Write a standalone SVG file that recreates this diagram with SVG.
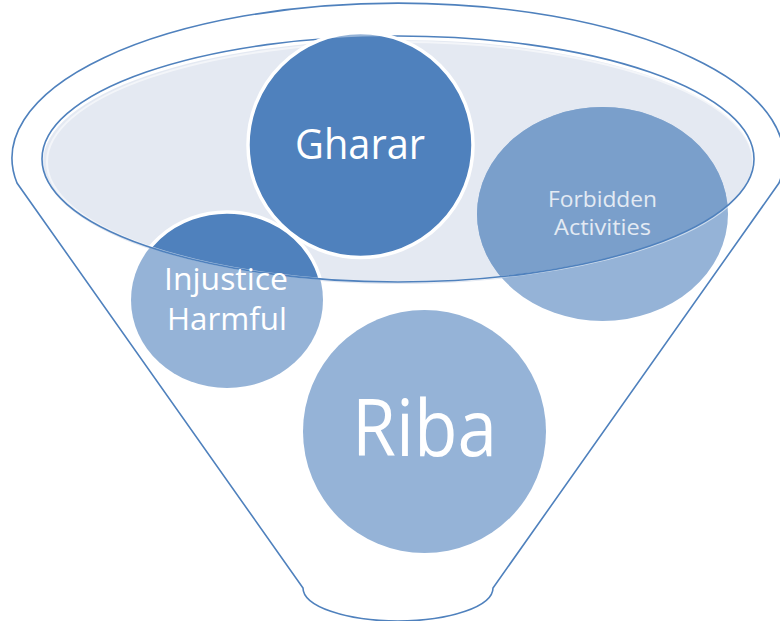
<svg xmlns="http://www.w3.org/2000/svg" width="780" height="621" viewBox="0 0 780 621">
  <style>
    .outline { fill: #FFFFFF; stroke: #4F81BD; stroke-width: 1.6; }
    .light { fill: #95B3D7; }
    .dark { fill: #4F81BD; }
    .mid { fill: #7A9FCB; }
    .ring { fill: none; stroke: #FFFFFF; stroke-width: 3.5; }
    .label { font-family: "Open Sans", "Noto Sans", "Liberation Sans", sans-serif; fill: #FFFFFF; text-anchor: middle; }
    .soft { fill: #E3EAF3; }
  </style>
  <defs>
    <clipPath id="glass-clip">
      <ellipse cx="398" cy="159" rx="356" ry="123"/>
    </clipPath>
  </defs>

  <!-- funnel body -->
  <g id="funnel">
    <path class="outline" d="M 17 183 A 386 155 0 1 1 779 183 L 493 588 A 95 33 0 0 1 303 588 Z"/>
    <ellipse cx="398" cy="162" rx="355" ry="122" fill="#E4E9F2"/>
  </g>

  <!-- Forbidden Activities -->
  <g id="node-forbidden">
    <ellipse class="light" cx="602.5" cy="214" rx="125.5" ry="107"/>
    <ellipse class="mid" cx="602.5" cy="214" rx="125.5" ry="107" clip-path="url(#glass-clip)"/>
  </g>

  <!-- Injustice Harmful -->
  <g id="node-injustice">
    <ellipse class="light" cx="227" cy="300" rx="96" ry="88"/>
    <ellipse class="dark" cx="227" cy="300" rx="96" ry="88" clip-path="url(#glass-clip)"/>
    <ellipse class="ring" cx="227" cy="300" rx="96" ry="88" clip-path="url(#glass-clip)"/>
  </g>

  <!-- rim of the glass -->
  <g id="glass-rim">
    <ellipse cx="400" cy="162" rx="353" ry="120" fill="none" stroke="#FFFFFF" stroke-opacity="0.55" stroke-width="2"/>
    <ellipse cx="398" cy="159" rx="356" ry="123" fill="none" stroke="#4F81BD" stroke-width="1.6"/>
  </g>

  <!-- Riba -->
  <g id="node-riba">
    <circle class="light" cx="424.5" cy="431.5" r="121.5"/>
  </g>

  <!-- Gharar -->
  <g id="node-gharar">
    <circle class="light" cx="360.5" cy="145" r="112.5"/>
    <circle class="dark" cx="360.5" cy="145" r="112.5" clip-path="url(#glass-clip)"/>
    <circle class="ring" cx="360.5" cy="145" r="112.5"/>
  </g>

  <!-- labels -->
  <g id="labels">
    <text class="label" x="360" y="159" font-size="42" textLength="130" lengthAdjust="spacingAndGlyphs">Gharar</text>
    <text class="label" x="424.5" y="456" font-size="78" textLength="145" lengthAdjust="spacingAndGlyphs">Riba</text>
    <text class="label" x="226" y="290" font-size="31" textLength="124" lengthAdjust="spacingAndGlyphs">Injustice</text>
    <text class="label" x="227" y="330" font-size="31" textLength="120" lengthAdjust="spacingAndGlyphs">Harmful</text>
    <text class="label soft" x="602.5" y="207" font-size="21.5" textLength="109" lengthAdjust="spacingAndGlyphs">Forbidden</text>
    <text class="label soft" x="602.5" y="235" font-size="21.5" textLength="97" lengthAdjust="spacingAndGlyphs">Activities</text>
  </g>
</svg>
